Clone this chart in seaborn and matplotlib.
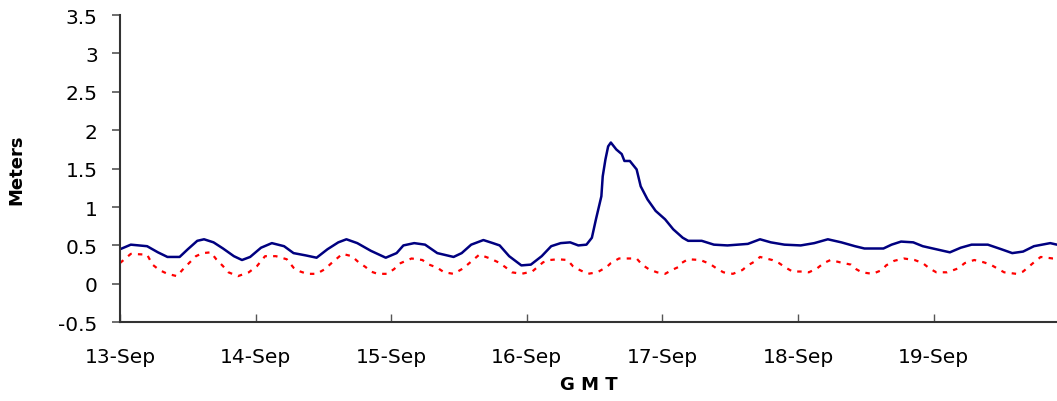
import numpy as np
import pandas as pd
import matplotlib
matplotlib.use("Agg")
import matplotlib.pyplot as plt
import seaborn as sns

# days after 13-Sep 00:00 GMT, water level in meters
obs_days = [0.00, 0.08, 0.20, 0.28, 0.35, 0.44, 0.50, 0.57, 0.62, 0.69, 0.76, 0.84,
            0.90, 0.96, 1.04, 1.12, 1.21, 1.28, 1.37, 1.45, 1.53, 1.61, 1.67, 1.75,
            1.85, 1.96, 2.04, 2.09, 2.17, 2.25, 2.34, 2.46, 2.52, 2.59, 2.68, 2.75,
            2.80, 2.87, 2.96, 3.03, 3.11, 3.18, 3.25, 3.32, 3.38, 3.44, 3.48, 3.51,
            3.55, 3.56, 3.58, 3.60, 3.62, 3.66, 3.70, 3.72, 3.76, 3.81, 3.84, 3.89,
            3.95, 4.02, 4.08, 4.15, 4.19, 4.29, 4.38, 4.48, 4.63, 4.72, 4.80, 4.90,
            5.02, 5.12, 5.22, 5.32, 5.42, 5.49, 5.63, 5.69, 5.76, 5.85, 5.92, 6.02,
            6.12, 6.20, 6.28, 6.40, 6.50, 6.58, 6.66, 6.74, 6.86, 6.91]
observed = [0.45, 0.51, 0.49, 0.41, 0.35, 0.35, 0.45, 0.56, 0.58, 0.54, 0.46, 0.36,
            0.31, 0.35, 0.47, 0.53, 0.49, 0.40, 0.37, 0.34, 0.45, 0.54, 0.58, 0.53,
            0.43, 0.34, 0.40, 0.50, 0.53, 0.51, 0.40, 0.35, 0.40, 0.51, 0.57, 0.53,
            0.50, 0.36, 0.24, 0.25, 0.36, 0.49, 0.53, 0.54, 0.50, 0.51, 0.60, 0.84,
            1.14, 1.40, 1.62, 1.79, 1.84, 1.75, 1.69, 1.60, 1.60, 1.49, 1.27, 1.10,
            0.95, 0.84, 0.71, 0.60, 0.56, 0.56, 0.51, 0.50, 0.52, 0.58, 0.54, 0.51,
            0.50, 0.53, 0.58, 0.54, 0.49, 0.46, 0.46, 0.51, 0.55, 0.54, 0.49, 0.45,
            0.41, 0.47, 0.51, 0.51, 0.45, 0.40, 0.42, 0.49, 0.53, 0.51]

pred_days = [0.00, 0.08, 0.20, 0.24, 0.29, 0.35, 0.42, 0.47, 0.56, 0.61, 0.67, 0.71,
             0.76, 0.80, 0.87, 0.95, 1.01, 1.07, 1.15, 1.23, 1.28, 1.33, 1.38, 1.45,
             1.51, 1.56, 1.60, 1.64, 1.71, 1.76, 1.81, 1.85, 1.90, 1.97, 2.02, 2.07,
             2.15, 2.23, 2.28, 2.34, 2.39, 2.46, 2.53, 2.59, 2.65, 2.73, 2.79, 2.84,
             2.89, 2.96, 3.04, 3.08, 3.12, 3.17, 3.23, 3.30, 3.34, 3.39, 3.45, 3.52,
             3.59, 3.62, 3.68, 3.75, 3.81, 3.85, 3.90, 3.96, 4.02, 4.07, 4.12, 4.14,
             4.19, 4.28, 4.35, 4.40, 4.45, 4.52, 4.59, 4.63, 4.68, 4.72, 4.81, 4.86,
             4.91, 4.96, 5.03, 5.08, 5.14, 5.19, 5.24, 5.31, 5.39, 5.43, 5.47, 5.55,
             5.62, 5.65, 5.71, 5.78, 5.86, 5.92, 5.97, 6.02, 6.10, 6.18, 6.23, 6.30,
             6.37, 6.42, 6.47, 6.52, 6.61, 6.66, 6.70, 6.74, 6.79, 6.88, 6.91]
predicted = [0.27, 0.39, 0.38, 0.25, 0.18, 0.13, 0.10, 0.20, 0.36, 0.40, 0.41, 0.32,
             0.23, 0.15, 0.10, 0.15, 0.23, 0.36, 0.36, 0.32, 0.21, 0.16, 0.13, 0.13,
             0.19, 0.27, 0.33, 0.39, 0.36, 0.28, 0.22, 0.16, 0.13, 0.13, 0.19, 0.27,
             0.33, 0.31, 0.25, 0.21, 0.15, 0.13, 0.20, 0.29, 0.38, 0.33, 0.28, 0.22,
             0.15, 0.13, 0.16, 0.22, 0.28, 0.31, 0.32, 0.31, 0.23, 0.18, 0.13, 0.15,
             0.22, 0.27, 0.33, 0.33, 0.33, 0.25, 0.19, 0.15, 0.13, 0.18, 0.22, 0.27,
             0.32, 0.31, 0.26, 0.20, 0.15, 0.13, 0.18, 0.24, 0.29, 0.35, 0.31, 0.27,
             0.21, 0.16, 0.16, 0.15, 0.20, 0.27, 0.31, 0.28, 0.25, 0.19, 0.15, 0.13,
             0.18, 0.24, 0.30, 0.33, 0.31, 0.27, 0.20, 0.15, 0.15, 0.20, 0.27, 0.31,
             0.28, 0.25, 0.20, 0.15, 0.13, 0.16, 0.22, 0.28, 0.35, 0.33, 0.33]

day_ticks = [0, 1, 2, 3, 4, 5, 6]
day_labels = ["13-Sep", "14-Sep", "15-Sep", "16-Sep", "17-Sep", "18-Sep", "19-Sep"]
y_ticks = [-0.5, 0, 0.5, 1, 1.5, 2, 2.5, 3, 3.5]

sns.set_style("white")
plt.rcParams["font.family"] = ["DejaVu Sans"]
plt.rcParams["text.color"] = "black"
plt.rcParams["axes.labelcolor"] = "black"

fig = plt.figure(figsize=(10.57, 4.02), dpi=100)
ax = fig.add_axes([0.1135, 0.196, 0.8865, 0.764])

sns.lineplot(x=pred_days, y=predicted, ax=ax, color="#ff0000", linewidth=1.6,
             linestyle=(0, (2, 2.8)))
sns.lineplot(x=obs_days, y=observed, ax=ax, color="#000080", linewidth=1.8)

ax.set_xlim(0, 6.91)
ax.set_ylim(-0.5, 3.5)
ax.set_xticks(day_ticks)
ax.set_xticklabels(day_labels)
ax.set_yticks(y_ticks)
ax.set_yticklabels([f"{v:g}" for v in y_ticks])

for side in ["top", "right"]:
    ax.spines[side].set_visible(False)
for side in ["left", "bottom"]:
    ax.spines[side].set_color("#333333")
    ax.spines[side].set_linewidth(1.5)

ax.tick_params(axis="y", direction="out", length=6, width=1.2, color="#555555",
               labelsize=14.5, labelcolor="black", pad=10, left=True)
ax.tick_params(axis="x", direction="in", length=6, width=1.0, color="#555555",
               labelsize=14.5, labelcolor="black", pad=18, bottom=True)

ax.set_xlabel("G M T", fontsize=13, fontweight="bold", labelpad=6)
ax.set_ylabel("Meters", fontsize=13, fontweight="bold", labelpad=24)

fig.savefig("out.png", dpi=100)
